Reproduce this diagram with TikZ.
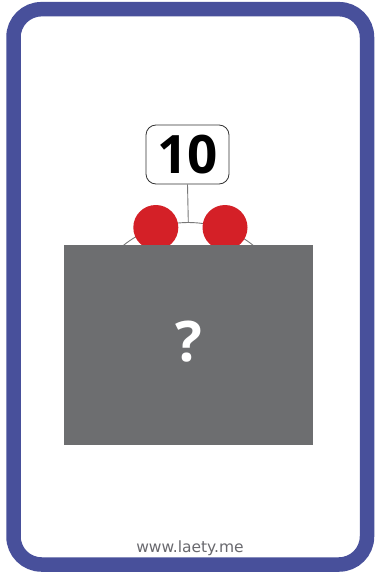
\documentclass[tikz,border=0pt]{standalone}
\usepackage{fontspec}
\setmainfont{Open Sans}
\newfontfamily\footfont{DejaVu Sans}
\definecolor{cardblue}{RGB}{72,80,155}
\definecolor{bondred}{RGB}{212,32,39}
\definecolor{boxgray}{RGB}{109,110,112}
\definecolor{ringgray}{RGB}{120,120,120}
\definecolor{footgray}{RGB}{105,105,110}
\tikzset{
  bondball/.style={circle, fill=bondred, minimum size=45pt, inner sep=0pt},
  totalbox/.style={draw=black!80, line width=0.8pt, rounded corners=10pt, fill=white,
    minimum width=83pt, minimum height=59pt, inner sep=0pt,
    font=\fontsize{53}{53}\bfseries\selectfont},
  ringline/.style={draw=ringgray, line width=0.9pt},
}
\begin{document}
\begin{tikzpicture}[x=1pt,y=-1pt]
\useasboundingbox (0,0) rectangle (379,572);
\fill[white] (0,0) rectangle (379,572);
\draw[line width=14.5pt, draw=cardblue, rounded corners=28pt] (13.5,9.2) rectangle (367,564.5);
% ring
\node[ringline, circle, minimum size=207pt, inner sep=0pt] (ring) at (188.3,326) {};
\node[totalbox] (total) at (187.5,154.5) {10};
\coordinate (top) at (ring.north);
\draw[ringline] (total.south) -- (top);
\node[bondball] (left) at (155.8,227.5) {};
\node[bondball] (right) at (225,227.5) {};
\fill[boxgray] (64,245) rectangle (313,445);
\node[text=white, font=\fontsize{56}{56}\bfseries\selectfont] (q) at (188.5,342) {?};
\node[text=footgray, font=\footfont\fontsize{15.5}{15.5}\selectfont, anchor=base] (url) at (190,552) {www.laety.me};
\end{tikzpicture}
\end{document}
